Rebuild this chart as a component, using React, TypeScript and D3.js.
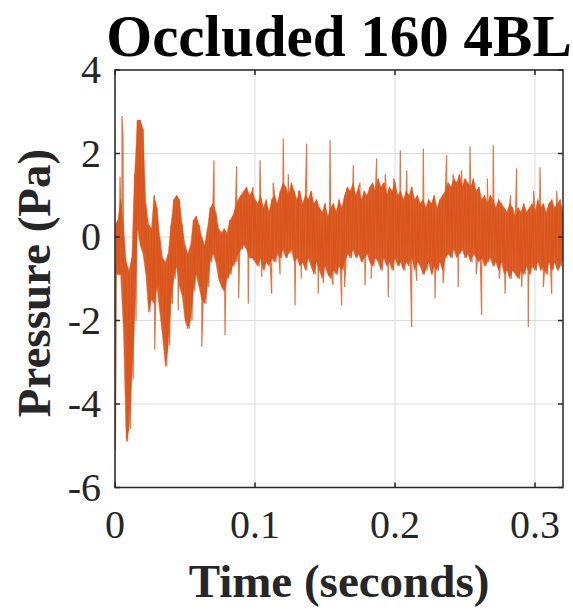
import React from "react";
import * as d3 from "d3";

// ---------- data ----------
const title = "Occluded 160 4BL";
const xLabel = "Time (seconds)";
const yLabel = "Pressure (Pa)";
const xTicks = [0, 0.1, 0.2, 0.3];
const xTickLabels = ["0", "0.1", "0.2", "0.3"];
const yTicks = [4, 2, 0, -2, -4, -6];
const yTickLabels = ["4", "2", "0", "-2", "-4", "-6"];
const xDomain = [0, 0.32];
const yDomain = [-6, 4];

// band samples every 2 ms: upper and lower excursion of the noisy trace
const sampleStep = 0.002;
const bandHigh = [
  0.3, 0.4, 0.9, 0.3, -0.6, -0.8, -0.5, 1.5, 2.8, 2.8,
  2.6, 0.8, 0.3, 0.2, 1.0, 0.7, 0.0, -0.5, -0.6, -0.4,
  0.3, 0.9, 1.0, 0.9, 0.3, -0.2, -0.4, -0.2, 0.4, 0.5,
  0.3, 0.0, -0.2, 0.2, 0.7, 0.8, 0.6, 0.2, 0.1, 0.2,
  0.1, 0.4, 0.5, 0.7, 0.9, 1.0, 1.1, 1.2, 1.0, 1.1,
  0.9, 0.8, 1.0, 0.7, 0.9, 0.6, 0.9, 1.0, 0.8, 1.1,
  1.3, 1.2, 1.0, 1.3, 1.1, 0.9, 1.1, 0.8, 1.0, 0.9,
  1.1, 0.8, 0.9, 0.7, 0.6, 0.8, 0.5, 0.7, 0.8, 0.6,
  0.9, 0.7, 1.0, 1.2, 1.1, 1.3, 1.0, 1.2, 0.9, 1.1,
  1.0, 1.2, 1.3, 1.1, 1.4, 1.2, 1.3, 1.0, 1.2, 1.1,
  1.3, 1.0, 1.1, 0.9, 1.1, 1.0, 1.2, 0.9, 1.0, 0.8,
  0.9, 0.7, 0.9, 0.8, 1.0, 0.7, 0.9, 1.0, 1.1, 1.3,
  1.2, 1.4, 1.3, 1.5, 1.2, 1.4, 1.3, 1.2, 1.4, 1.1,
  1.2, 0.9, 1.0, 0.8, 1.0, 0.9, 0.7, 0.9, 0.8, 0.7,
  0.6, 0.8, 0.7, 0.5, 0.7, 0.6, 0.8, 0.6, 0.7, 0.8,
  0.6, 0.9, 0.7, 0.8, 0.6, 0.8, 0.9, 0.7, 0.8, 0.9,
  0.6,
];
const bandLow = [
  -0.9, -0.9, -0.9, -2.2, -4.9, -4.6, -3.4, -2.0, 0.2, -0.2,
  -0.4, -0.9, -1.8, -1.5, -1.6, -1.2, -1.8, -2.4, -3.1, -2.6,
  -1.6, -1.0, -0.7, -1.2, -1.4, -2.0, -2.2, -2.0, -1.3, -0.9,
  -1.2, -1.5, -1.6, -1.2, -0.6, -0.4, -0.6, -1.0, -1.2, -1.3,
  -1.0, -0.9, -0.7, -0.6, -0.4, -0.3, -0.2, -0.3, -0.5, -0.5,
  -0.6, -0.7, -0.5, -0.8, -0.6, -0.7, -0.5, -0.6, -0.4, -0.5,
  -0.3, -0.5, -0.4, -0.3, -0.6, -0.5, -0.7, -0.6, -0.8, -0.5,
  -0.7, -0.9, -0.6, -0.8, -1.0, -0.7, -0.9, -1.0, -0.8, -0.9,
  -0.7, -0.8, -0.6, -0.4, -0.5, -0.3, -0.5, -0.4, -0.6, -0.5,
  -0.4, -0.6, -0.7, -0.5, -0.6, -0.8, -0.5, -0.7, -0.6, -0.8,
  -0.5, -0.7, -0.6, -0.8, -0.6, -0.7, -0.5, -0.8, -0.6, -0.7,
  -0.9, -0.8, -0.6, -0.9, -0.7, -0.8, -0.6, -0.8, -0.5, -0.4,
  -0.5, -0.3, -0.5, -0.4, -0.3, -0.5, -0.4, -0.6, -0.4, -0.5,
  -0.6, -0.5, -0.7, -0.6, -0.5, -0.7, -0.6, -0.8, -0.6, -0.9,
  -0.8, -1.0, -0.8, -0.9, -1.0, -0.8, -0.9, -0.7, -0.9, -0.7,
  -0.8, -0.6, -0.8, -0.7, -0.9, -0.6, -0.8, -0.6, -0.8, -0.7,
  -0.5,
];

// spikes (time in s, pressure in Pa)
const spikeUpTimes = [0.0036, 0.005, 0.0057, 0.0707, 0.0869, 0.1036, 0.1202, 0.1369, 0.1536, 0.1702, 0.1869, 0.2038, 0.2202, 0.2369, 0.2536, 0.2702, 0.2869, 0.3036];
const spikeUpValues = [1.45, 2.9, 2.4, 1.84, 1.69, 1.84, 2.36, 2.24, 2.32, 1.72, 1.88, 2.08, 2.12, 1.96, 2.17, 2.2, 1.64, 1.67];
const spikeDownTimes = [0.0003, 0.0284, 0.0452, 0.062, 0.0786, 0.0883, 0.0952, 0.1119, 0.1286, 0.1452, 0.1619, 0.1786, 0.1952, 0.2119, 0.2286, 0.2452, 0.2619, 0.2786, 0.2952, 0.3119];
const spikeDownValues = [-5.1, -2.7, -1.76, -2.63, -2.35, -1.47, -1.6, -1.36, -1.64, -1.36, -1.64, -1.16, -1.44, -2.16, -1.47, -1.2, -1.87, -1.36, -2.16, -1.36];
const spikeMinorTimes = [
  0.0986, 0.1048, 0.113, 0.1179, 0.1238, 0.131, 0.133, 0.1405, 0.1488, 0.1557,
  0.164, 0.167, 0.175, 0.183, 0.193, 0.199, 0.2084, 0.2155, 0.2343, 0.2415,
  0.2475, 0.258, 0.266, 0.2745, 0.2825, 0.2905, 0.299, 0.306, 0.3155,
];
const spikeMinorValues = [
  1.2, -0.95, 1.3, -0.9, 1.5, 1.1, -1.0, 1.05, -1.1, -1.15,
  -1.2, 0.9, 1.3, -1.0, 1.5, 1.4, 1.6, -1.05, -1.1, 1.5,
  1.6, -0.9, 1.4, -1.0, 1.0, -1.2, 1.1, -1.2, 1.1,
];

// ---------- layout ----------
const W = 573;
const H = 611;
const M = { left: 115, right: 563, top: 70, bottom: 487.5 };
const LINE = "#D95319";
const AX = "#262626";
const FONT = "'Liberation Serif', 'Times New Roman', serif";

export default function App() {
  const x = d3.scaleLinear().domain(xDomain).range([M.left, M.right]);
  const y = d3.scaleLinear().domain(yDomain).range([M.bottom, M.top]);

  const band = bandHigh.map((v, i) => ({ t: i * sampleStep, hi: v, lo: bandLow[i] }));

  const pts: [number, number][] = [];
  band.forEach((b) => {
    pts.push([b.t, b.hi]);
    pts.push([b.t + sampleStep / 2, b.lo]);
  });
  spikeUpTimes.forEach((t, i) => pts.push([t, spikeUpValues[i]]));
  spikeDownTimes.forEach((t, i) => pts.push([t, spikeDownValues[i]]));
  spikeMinorTimes.forEach((t, i) => pts.push([t, spikeMinorValues[i]]));
  pts.sort((a, b) => a[0] - b[0]);

  const area = d3
    .area<{ t: number; hi: number; lo: number }>()
    .x((d) => x(d.t))
    .y0((d) => y(d.lo))
    .y1((d) => y(d.hi));

  const line = d3
    .line<[number, number]>()
    .x((d) => x(d[0]))
    .y((d) => y(d[1]));

  const tickLen = 5;

  return (
    <svg
      width={W}
      height={H}
      style={{ position: "absolute", left: 0, top: 0, background: "#fff" }}
      fontFamily={FONT}
    >
      <defs>
        <clipPath id="plotclip">
          <rect x={M.left} y={M.top} width={M.right - M.left} height={M.bottom - M.top} />
        </clipPath>
      </defs>
      <rect x={0} y={0} width={W} height={H} fill="#fff" />
      {/* grid */}
      {xTicks.map((t) => (
        <line key={"gx" + t} x1={x(t)} x2={x(t)} y1={M.top} y2={M.bottom} stroke="#dcdcdc" strokeWidth={1} />
      ))}
      {yTicks.map((t) => (
        <line key={"gy" + t} x1={M.left} x2={M.right} y1={y(t)} y2={y(t)} stroke="#dcdcdc" strokeWidth={1} />
      ))}
      {/* signal */}
      <g clipPath="url(#plotclip)">
        <path d={area(band) || ""} fill={LINE} fillOpacity={0.92} stroke={LINE} strokeOpacity={0.5} strokeWidth={0.8} />
        <path d={line(pts) || ""} fill="none" stroke={LINE} strokeWidth={1.2} strokeOpacity={0.8} strokeLinejoin="miter" strokeMiterlimit={2} />
      </g>
      {/* box */}
      <rect x={M.left} y={M.top} width={M.right - M.left} height={M.bottom - M.top} fill="none" stroke={AX} strokeWidth={1.5} />
      {/* ticks */}
      {xTicks.map((t) => (
        <g key={"tx" + t}>
          <line x1={x(t)} x2={x(t)} y1={M.bottom} y2={M.bottom - tickLen} stroke={AX} strokeWidth={1.5} />
          <line x1={x(t)} x2={x(t)} y1={M.top} y2={M.top + tickLen} stroke={AX} strokeWidth={1.5} />
        </g>
      ))}
      {yTicks.map((t) => (
        <g key={"ty" + t}>
          <line x1={M.left} x2={M.left + tickLen} y1={y(t)} y2={y(t)} stroke={AX} strokeWidth={1.5} />
          <line x1={M.right} x2={M.right - tickLen} y1={y(t)} y2={y(t)} stroke={AX} strokeWidth={1.5} />
        </g>
      ))}
      {/* tick labels */}
      {xTicks.map((t, i) => (
        <text key={"lx" + t} x={x(t)} y={538} textAnchor="middle" fontSize={40} fill={AX}>
          {xTickLabels[i]}
        </text>
      ))}
      {yTicks.map((t, i) => (
        <text key={"ly" + t} x={101} y={y(t) + 13} textAnchor="end" fontSize={40} fill={AX}>
          {yTickLabels[i]}
        </text>
      ))}
      {/* titles */}
      <text x={(M.left + M.right) / 2} y={56} textAnchor="middle" fontSize={59} fontWeight="bold" fill="#000">
        {title}
      </text>
      <text x={(M.left + M.right) / 2} y={597} textAnchor="middle" fontSize={47} fontWeight="bold" fill={AX}>
        {xLabel}
      </text>
      <text
        transform={`translate(50, 283) rotate(-90)`}
        textAnchor="middle"
        fontSize={47}
        fontWeight="bold"
        fill={AX}
      >
        {yLabel}
      </text>
    </svg>
  );
}
